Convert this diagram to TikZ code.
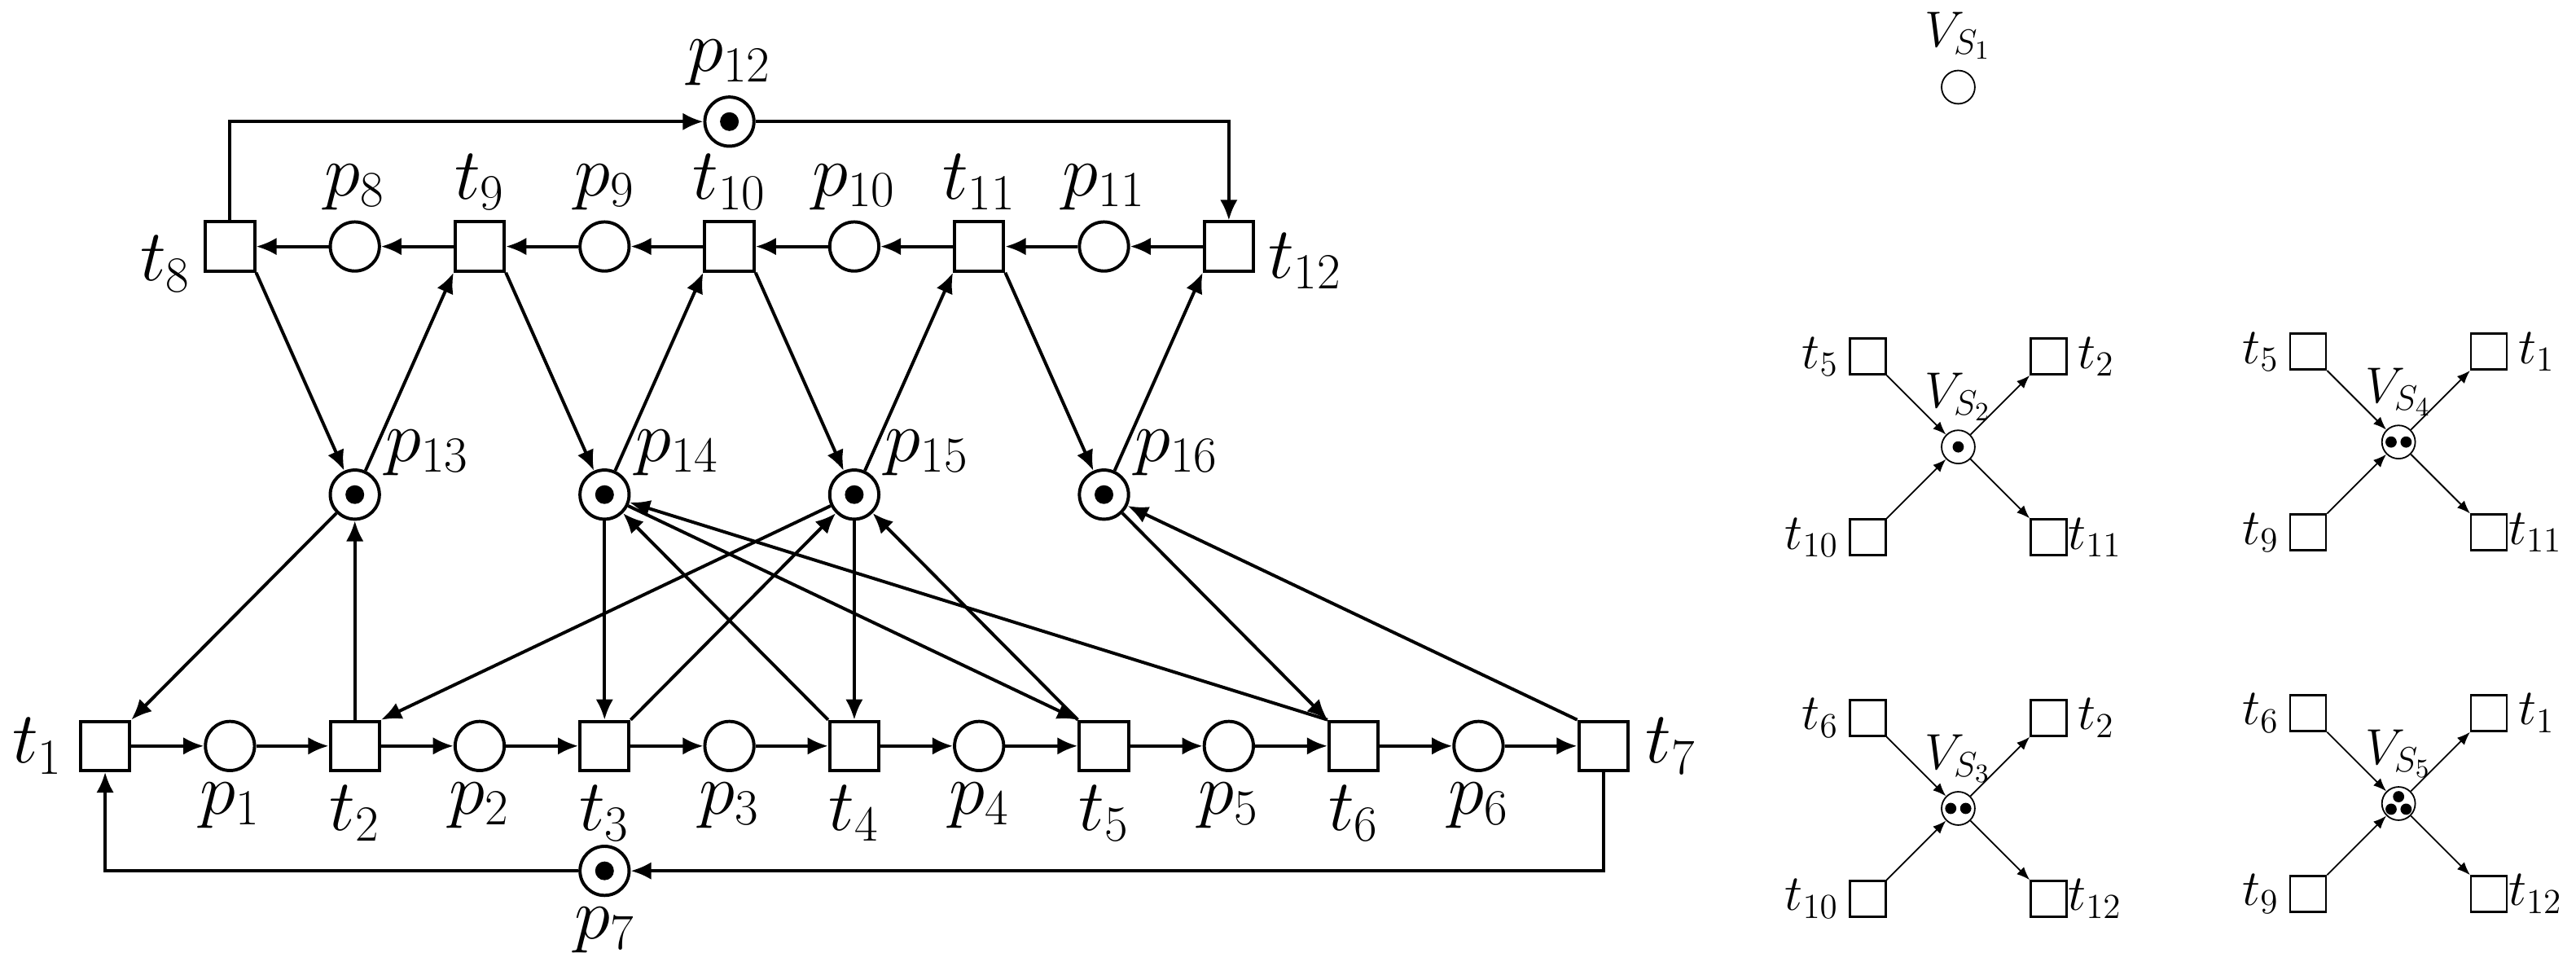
\documentclass[tikz,border=0pt]{standalone}
\usepackage{amsmath}
\usetikzlibrary{positioning,calc,arrows.meta}

\tikzset{
  place/.style={circle, draw, line width=1.1pt, minimum size=0.59cm, inner sep=0pt},
  transition/.style={rectangle, draw, line width=1.1pt, minimum size=0.59cm, inner sep=0pt},
  splace/.style={circle, draw, line width=0.5pt, minimum size=0.4cm, inner sep=0pt},
  strans/.style={rectangle, draw, line width=0.7pt, minimum size=0.43cm, inner sep=0pt},
  arc/.style={line width=1.1pt, -{Latex[length=7pt,width=6pt]}},
  sarc/.style={line width=0.5pt, -{Latex[length=4.5pt,width=3.5pt]}},
  big/.style={font=\fontsize{24}{28}\selectfont},
  small/.style={font=\fontsize{18}{21}\selectfont}
}

\begin{document}
\begin{tikzpicture}[x=1.5cm, y=1.5cm]
  \useasboundingbox (0,0) rectangle (20.632,7.803);

  % === Ligne du bas ===
  \foreach \i/\n in {0/1,2/2,4/3,6/4,8/5,10/6,12/7}
    \node[transition] (t\n) at (0.842+\i,1.829) {};
  \foreach \i/\n in {1/1,3/2,5/3,7/4,9/5,11/6}
    \node[place, label={[big]below:$p_{\n}$}] (p\n) at (0.842+\i,1.829) {};
  \node[place, label={[big]below:$p_7$}] (p7) at (4.842,0.829) {};

  % === Ligne du haut ===
  \foreach \i/\n in {1/8,3/9,5/10,7/11,9/12}
    \node[transition] (t\n) at (0.842+\i,5.829) {};
  \foreach \i/\n in {2/8,4/9,6/10,8/11}
    \node[place, label={[big]above:$p_{\n}$}] (p\n) at (0.842+\i,5.829) {};
  \node[place, label={[big]above:$p_{12}$}] (p12) at (5.842,6.829) {};

  % === Places du milieu ===
  \foreach \i/\n in {2/13,4/14,6/15,8/16}
    \node[place, label={[big,inner sep=0pt,xshift=4pt]above right:$p_{\n}$}] (p\n) at (0.842+\i,3.842) {};

  % === Etiquettes des transitions ===
  \node[big, left=2pt of t1] {$t_1$};
  \node[big, right=2pt of t7] {$t_7$};
  \foreach \n in {2,...,6} \node[big, below=1pt of t\n] {$t_{\n}$};
  \node[big, left=1pt of t8, yshift=-6pt] {$t_8$};
  \node[big, right=1pt of t12, yshift=-5pt] {$t_{12}$};
  \foreach \n in {9,10,11} \node[big, above=0pt of t\n] {$t_{\n}$};

  % Jetons
  \foreach \n in {7,12,13,14,15,16} \fill (p\n) circle (0.075);

  % === Arcs ===
  \draw[arc] (t1) -- (p1);
  \foreach \a/\b in {1/2,2/3,3/4,4/5,5/6}
    \draw[arc] (p\a) -- (t\b);
  \foreach \a/\b in {2/2,3/3,4/4,5/5,6/6}
    \draw[arc] (t\a) -- (p\b);
  \draw[arc] (p6) -- (t7);
  \draw[arc] (t12) -- (p11);
  \foreach \a/\b in {11/11,10/10,9/9}
    \draw[arc] (p\a) -- (t\b);
  \foreach \a/\b in {11/10,10/9,9/8}
    \draw[arc] (t\a) -- (p\b);
  \draw[arc] (p8) -- (t8);
  \draw[arc] (t8.north) |- (p12);
  \draw[arc] (p12) -| (t12.north);
  \draw[arc] (t7.south) |- (p7);
  \draw[arc] (p7) -| (t1.south);

  \draw[arc] (t8.south east) -- (p13);
  \draw[arc] (p13) -- (t9.south west);
  \draw[arc] (t9.south east) -- (p14);
  \draw[arc] (p14) -- (t10.south west);
  \draw[arc] (t10.south east) -- (p15);
  \draw[arc] (p15) -- (t11.south west);
  \draw[arc] (t11.south east) -- (p16);
  \draw[arc] (p16) -- (t12.south west);

  \draw[arc] (p13) -- (t1.north east);
  \draw[arc] (t2) -- (p13);
  \draw[arc] (p15) -- (t2.north east);
  \draw[arc] (p14) -- (t3);
  \draw[arc] (t3.north east) -- (p15);
  \draw[arc] (t4.north west) -- (p14);
  \draw[arc] (p15) -- (t4);
  \draw[arc] (p14) -- (t5.north west);
  \draw[arc] (t5.north west) -- (p15);
  \draw[arc] (t6.north west) -- (p14);
  \draw[arc] (p16) -- (t6.north west);
  \draw[arc] (t7.north west) -- (p16);

  % === Sous-reseaux a droite ===
  \node[splace, label={[small]above:$V_{S_1}$}] (vs1) at (15.684,7.105) {};

  \foreach \v/\x/\y/\a/\b/\c/\d in {
      2/15.684/4.224/5/2/10/11,
      4/19.211/4.263/5/1/9/11,
      3/15.684/1.329/6/2/10/12,
      5/19.211/1.368/6/1/9/12} {
    \node[splace] (vs\v) at (\x,\y) {};
    \node[small, inner sep=1pt] at ($(vs\v)+(0,0.4)$) {$V_{S_{\v}}$};
    \node[strans, label={[small]left:$t_{\a}$}] (vs\v a) at ($(vs\v)+(-0.724,0.724)$) {};
    \node[strans, label={[small]right:$t_{\b}$}] (vs\v b) at ($(vs\v)+(0.724,0.724)$) {};
    \node[strans, label={[small]left:$t_{\c}$}] (vs\v c) at ($(vs\v)+(-0.724,-0.724)$) {};
    \node[strans, label={[small,inner sep=0pt]right:$t_{\d}$}] (vs\v d) at ($(vs\v)+(0.724,-0.724)$) {};
    \draw[sarc] (vs\v a.south east) -- (vs\v);
    \draw[sarc] (vs\v c.north east) -- (vs\v);
    \draw[sarc] (vs\v) -- (vs\v b.south west);
    \draw[sarc] (vs\v) -- (vs\v d.north west);
  }
  \fill (vs2) circle (0.045);
  \fill ($(vs3)+(-0.06,0)$) circle (0.045) ($(vs3)+(0.06,0)$) circle (0.045);
  \fill ($(vs4)+(-0.06,0)$) circle (0.045) ($(vs4)+(0.06,0)$) circle (0.045);
  \fill ($(vs5)+(0,0.055)$) circle (0.045) ($(vs5)+(-0.06,-0.045)$) circle (0.045)
        ($(vs5)+(0.06,-0.045)$) circle (0.045);
\end{tikzpicture}
\end{document}
